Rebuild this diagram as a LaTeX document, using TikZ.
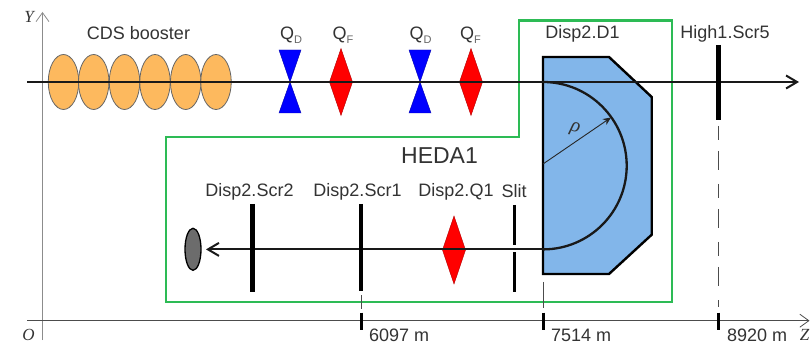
\documentclass[tikz,border=0pt]{standalone}
\usepackage{fontspec}
\setmainfont{Liberation Sans}
\newfontfamily\serifit[ItalicFont=Liberation Serif Italic]{Liberation Serif}
\usetikzlibrary{shapes.geometric,arrows.meta}
\definecolor{boosterc}{HTML}{FDB95E}
\definecolor{dipolec}{HTML}{82B6EA}
\definecolor{framec}{HTML}{2DBB55}
\definecolor{axisc}{HTML}{8C8C8C}
\definecolor{textc}{HTML}{333333}
\tikzset{
  booster/.style={ellipse,draw=black!60,line width=0.8pt,fill=boosterc,minimum width=30.5pt,minimum height=55pt,inner sep=0pt},
  lab/.style={text=textc,font=\fontsize{18}{20}\selectfont,inner sep=0pt},
  axislab/.style={text=textc,font=\serifit\itshape\fontsize{17}{20}\selectfont,inner sep=0pt},
  dist/.style={lab,anchor=west,font=\fontsize{18}{20}\selectfont},
  beam/.style={line width=2.3pt,black!90},
  axisline/.style={line width=1pt,axisc},
  tickm/.style={line width=3pt,black},
  guide/.style={line width=1pt,black!70},
  screenbar/.style={line width=4.8pt,black},
  frameline/.style={line width=2.7pt,framec,line join=miter},
  openarrow/.style={-{Straight Barb[length=11pt,width=13pt,line width=2pt]}},
  quadF/.style={fill=red,draw=red!70!black,line width=0.4pt},
  quadD/.style={fill=blue,draw=blue!70!black,line width=0.4pt},
}
\newcommand{\diamondquad}[4]{\path[quadF] (#1-#4,#2) -- (#1,#2-#3) -- (#1+#4,#2) -- (#1,#2+#3) -- cycle;}
\newcommand{\bowquad}[2]{\path[quadD] (#1-11,50) -- (#1+11,50) -- (#1,#2) -- (#1+11,113) -- (#1-11,113) -- (#1,#2) -- cycle;}
\begin{document}
\begin{tikzpicture}[x=1pt,y=-1pt]
\useasboundingbox (0,0) rectangle (810,344);
\fill[white] (0,0) rectangle (810,344);
% axes
\coordinate (yb) at (42.5,340); \coordinate (yt) at (42.5,12);
\coordinate (zl) at (27,320.7); \coordinate (zr) at (809.5,320.7);
\draw[axisline,-{Straight Barb[length=9pt,width=13pt,line width=0.8pt]}] (yb) -- (yt);
\draw[axisline,black!70,-{Straight Barb[length=9pt,width=13pt,line width=0.8pt]}] (zl) -- (zr);
% dipole
\draw[fill=dipolec,line width=2.4pt,draw=black,line join=miter]
  (543,57) coordinate (d1) -- (609,57) -- (651.7,97) -- (651.7,234.7) -- (609,274) -- (543,274) -- cycle;
% frame
\draw[frameline] (166,137) -- (519,137) -- (519,20.5) -- (672,20.5) -- (672,302) -- (166,302) -- cycle;
% booster
\foreach \n/\x in {1/63.5,2/93.7,3/124.5,4/155,5/185.7,6/216}
  \node[booster] (b\n) at (\x,82) {};
% quadrupoles
\bowquad{290}{82}
\bowquad{420}{82}
\diamondquad{341}{82}{33.5}{11.5}
\diamondquad{471}{82}{33.5}{11.5}
\diamondquad{454}{250}{34}{11.5}
% beam
\coordinate (ms) at (27,82); \coordinate (me) at (799,82);
\draw[beam,openarrow] (ms) -- (me);
\coordinate (arcA) at (543,82); \coordinate (arcB) at (543,249.4);
\draw[beam] (arcA) arc[start angle=-90,end angle=90,radius=83.7];
\node[ellipse,draw=black,line width=1.3pt,fill=gray!85!black,minimum width=16pt,minimum height=42pt,inner sep=0pt] (target) at (193,249.3) {};
\coordinate (tip) at (206,249.4);
\draw[beam,line width=2pt,openarrow] (arcB) -- (tip);
% radius
\coordinate (r0) at (543,164); \coordinate (r1) at (611,117.5);
\draw[line width=0.9pt,black!85,-{Stealth[length=8pt,width=7pt]}] (r0) -- (r1);
\node[axislab,rotate=-15,font=\fontsize{20}{22}\selectfont\serifit\itshape] (rho) at (575,129) {ρ};
% screens
\draw[screenbar] (718.7,45) coordinate (s5t) -- (718.7,120) coordinate (s5b);
\draw[screenbar] (252.5,204) coordinate (s2t) -- (252.5,292) coordinate (s2b);
\draw[screenbar] (361,204) coordinate (s1t) -- (361,291) coordinate (s1b);
\draw[line width=3pt,black] (514,205) coordinate (sla) -- (514,245) coordinate (slb);
\draw[line width=3pt,black] (514,252.5) coordinate (slc) -- (514,292) coordinate (sld);
% guides
\draw[guide,dash pattern=on 14pt off 11pt on 19pt off 14pt] (718.7,126) coordinate (ga) -- (718.7,307) coordinate (gb);
\draw[guide] (361,295) coordinate (gc) -- (361,309) coordinate (gd);
\draw[guide] (543,282) coordinate (ge) -- (543,308) coordinate (gf);
% ticks
\draw[tickm] (361,312.7) coordinate (t1) -- (361,329.7) coordinate (t1b);
\draw[tickm] (543,312.7) coordinate (t2) -- (543,329.7) coordinate (t2b);
\draw[tickm] (718.7,312.7) coordinate (t3) -- (718.7,329.7) coordinate (t3b);
% labels
\node[lab] (lbooster) at (138.5,33.5) {CDS booster};
\node[lab] (lq1) at (291,35) {Q\raisebox{-3.5pt}{\fontsize{11}{12}\selectfont\color{black!60}D}};
\node[lab] (lq2) at (343,35) {Q\raisebox{-3.5pt}{\fontsize{11}{12}\selectfont\color{black!60}F}};
\node[lab] (lq3) at (420.5,35) {Q\raisebox{-3.5pt}{\fontsize{11}{12}\selectfont\color{black!60}D}};
\node[lab] (lq4) at (470.5,35) {Q\raisebox{-3.5pt}{\fontsize{11}{12}\selectfont\color{black!60}F}};
\node[lab] (ld1) at (582.5,33.5) {Disp2.D1};
\node[lab] (lscr5) at (725,33.5) {High1.Scr5};
\node[lab,font=\fontsize{23}{25}\selectfont] (lheda) at (439.5,155.5) {HEDA1};
\node[lab] (lscr2) at (249.5,191.5) {Disp2.Scr2};
\node[lab] (lscr1) at (357.5,191.5) {Disp2.Scr1};
\node[lab] (lq) at (456,191.5) {Disp2.Q1};
\node[lab] (lslit) at (514,191.5) {Slit};
\node[dist] (d6097) at (369,335) {6097 m};
\node[dist] (d7514) at (551,335) {7514 m};
\node[dist] (d8920) at (727,335) {8920 m};
\node[axislab] (ly) at (29,17) {Y};
\node[axislab] (lo) at (28.5,335) {O};
\node[axislab] (lz) at (804.5,335) {Z};
\end{tikzpicture}
\end{document}
